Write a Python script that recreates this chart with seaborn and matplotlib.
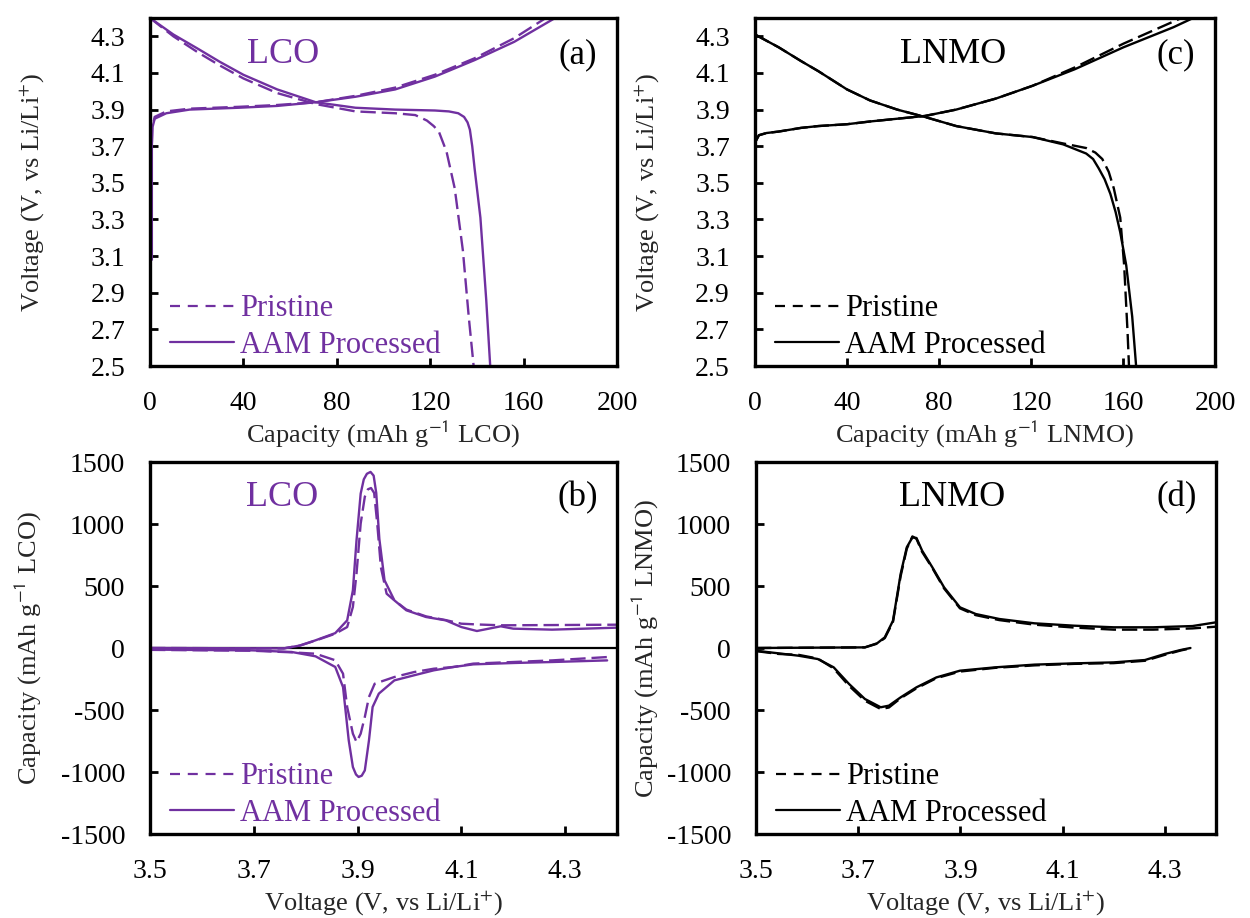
import numpy as np
import pandas as pd
import matplotlib
matplotlib.use("Agg")
import matplotlib.pyplot as plt
from matplotlib.lines import Line2D
import seaborn as sns

# ---------------- data ----------------
# (a) LCO galvanostatic charge / discharge
lco_chg_cap_aam = [0.8, 0.8, 1.0, 2, 7, 17, 38, 54.5, 71, 88, 105, 122, 139, 156, 173.5]
lco_chg_v_aam = [3.08, 3.70, 3.80, 3.85, 3.88, 3.90, 3.91, 3.92, 3.94, 3.97, 4.01, 4.08, 4.17, 4.27, 4.40]
lco_chg_cap_pri = [0.8, 1.0, 2, 7, 17, 38, 54.5, 71, 88, 105, 122, 139, 156, 169.5]
lco_chg_v_pri = [3.72, 3.80, 3.86, 3.89, 3.905, 3.915, 3.925, 3.94, 3.975, 4.02, 4.09, 4.18, 4.29, 4.40]
lco_dis_cap_aam = [0, 10, 20.8, 30, 40, 54.5, 71, 88, 105, 122, 128, 132, 134.5, 136, 137, 138, 139, 141.5, 144, 145.7]
lco_dis_v_aam = [4.40, 4.31, 4.23, 4.16, 4.09, 4.01, 3.94, 3.91, 3.90, 3.895, 3.89, 3.88, 3.86, 3.83, 3.79, 3.70, 3.58, 3.31, 2.86, 2.50]
lco_dis_cap_pri = [0, 10, 20.8, 30, 40, 54.5, 71, 88, 105, 113.6, 118.6, 121.5, 123.7, 127, 130.5, 134, 136.5, 138.6]
lco_dis_v_pri = [4.40, 4.30, 4.21, 4.14, 4.07, 3.99, 3.93, 3.89, 3.88, 3.87, 3.84, 3.81, 3.78, 3.67, 3.47, 3.13, 2.77, 2.50]

# (c) LNMO galvanostatic charge / discharge
lnmo_chg_cap_aam = [0, 1.7, 5, 10.3, 20, 27.5, 40, 50, 61.8, 73.8, 87.5, 104.7, 120.7, 139, 160.2, 182, 190.5]
lnmo_chg_v_aam = [3.72, 3.76, 3.772, 3.78, 3.80, 3.81, 3.82, 3.835, 3.85, 3.865, 3.90, 3.96, 4.03, 4.12, 4.24, 4.35, 4.40]
lnmo_chg_cap_pri = [0, 1.7, 5, 10.3, 20, 27.5, 40, 50, 61.8, 73.8, 87.5, 104.7, 120.7, 139, 160.2, 180, 185.4]
lnmo_chg_v_pri = [3.72, 3.76, 3.772, 3.78, 3.80, 3.81, 3.82, 3.835, 3.85, 3.865, 3.90, 3.96, 4.03, 4.13, 4.26, 4.37, 4.40]
lnmo_dis_cap_aam = [0, 10.3, 20, 27.5, 40, 50, 61.8, 73.8, 87.5, 104.7, 120.7, 134, 140, 144, 147, 149.4, 152, 154.5, 156.8, 158.8, 161.4, 164, 165.7]
lnmo_dis_v_aam = [4.31, 4.24, 4.165, 4.11, 4.01, 3.95, 3.90, 3.86, 3.81, 3.77, 3.75, 3.71, 3.68, 3.66, 3.63, 3.58, 3.52, 3.44, 3.34, 3.23, 3.05, 2.77, 2.50]
lnmo_dis_cap_pri = [0, 10.3, 20, 27.5, 40, 50, 61.8, 73.8, 87.5, 104.7, 120.7, 134, 140, 144, 148, 151, 153.8, 156, 158.8, 160.5, 162, 162.6]
lnmo_dis_v_pri = [4.31, 4.24, 4.165, 4.11, 4.01, 3.95, 3.90, 3.86, 3.81, 3.77, 3.75, 3.715, 3.70, 3.69, 3.665, 3.63, 3.56, 3.47, 3.31, 3.05, 2.68, 2.50]

# (b) LCO differential capacity
lco_dq_chg_v_aam = [3.50, 3.758, 3.789, 3.819, 3.857, 3.880, 3.891, 3.898, 3.906, 3.912, 3.918, 3.925, 3.931, 3.936,
                    3.942, 3.952, 3.971, 3.994, 4.032, 4.070, 4.100, 4.130, 4.153, 4.176, 4.200, 4.275, 4.400]
lco_dq_chg_q_aam = [0, -3, 20, 62, 120, 223, 465, 868, 1245, 1360, 1405, 1420, 1390, 1250,
                    880, 546, 384, 304, 250, 223, 169, 137, 156, 175, 156, 148, 164]
lco_dq_chg_v_pri = [3.50, 3.758, 3.789, 3.819, 3.857, 3.880, 3.891, 3.898, 3.906, 3.914, 3.920, 3.926, 3.932, 3.938,
                    3.945, 3.956, 3.971, 3.994, 4.032, 4.070, 4.100, 4.130, 4.176, 4.275, 4.400]
lco_dq_chg_q_pri = [0, -3, 20, 60, 115, 169, 331, 600, 1003, 1220, 1280, 1290, 1250, 1000,
                    650, 438, 384, 310, 255, 225, 196, 190, 183, 185, 188]
lco_dq_dis_v_aam = [3.50, 3.697, 3.773, 3.819, 3.857, 3.872, 3.883, 3.891, 3.897, 3.902, 3.908, 3.914, 3.922, 3.929,
                    3.941, 3.971, 4.009, 4.047, 4.085, 4.123, 4.200, 4.275, 4.381]
lco_dq_dis_q_aam = [-13, -19, -32, -67, -153, -315, -745, -960, -1020, -1040, -1030, -987, -745, -476,
                    -368, -261, -220, -180, -153, -132, -121, -113, -100]
lco_dq_dis_v_pri = [3.50, 3.697, 3.773, 3.819, 3.857, 3.872, 3.880, 3.891, 3.898, 3.906, 3.914, 3.922, 3.933,
                    3.971, 4.009, 4.047, 4.085, 4.123, 4.200, 4.275, 4.381]
lco_dq_dis_q_pri = [-15, -22, -35, -46, -99, -207, -476, -691, -758, -691, -556, -395, -288,
                    -234, -194, -167, -153, -126, -113, -100, -73]

# (d) LNMO differential capacity
lnmo_dq_chg_v = [3.50, 3.713, 3.737, 3.752, 3.768, 3.783, 3.795, 3.806, 3.814, 3.825, 3.845, 3.868, 3.899,
                 3.930, 3.976, 4.045, 4.122, 4.200, 4.277, 4.354, 4.400]
lnmo_dq_chg_q_aam = [0, 5, 38, 86, 220, 597, 812, 892, 887, 785, 651, 489, 328,
                     274, 234, 199, 180, 167, 167, 177, 207]
lnmo_dq_chg_q_pri = [0, 5, 35, 80, 210, 580, 800, 900, 880, 775, 645, 480, 320,
                     265, 225, 188, 165, 148, 148, 158, 172]
lnmo_dq_dis_v = [3.50, 3.544, 3.583, 3.621, 3.652, 3.682, 3.713, 3.744, 3.760, 3.783, 3.814, 3.853, 3.899,
                 3.968, 4.045, 4.122, 4.200, 4.261, 4.300, 4.331, 4.350]
lnmo_dq_dis_q_aam = [-22, -43, -62, -89, -156, -290, -411, -478, -465, -398, -317, -237, -183,
                     -156, -134, -124, -116, -97, -48, -16, 0]
lnmo_dq_dis_q_pri = [-25, -48, -55, -85, -165, -305, -425, -492, -480, -405, -325, -243, -190,
                     -160, -140, -128, -122, -103, -55, -20, -3]

samples = ["Pristine", "AAM Processed"]
cap_ticks = [0, 40, 80, 120, 160, 200]
volt_ticks = [2.5, 2.7, 2.9, 3.1, 3.3, 3.5, 3.7, 3.9, 4.1, 4.3]
dq_x_ticks = [3.5, 3.7, 3.9, 4.1, 4.3]
dq_y_ticks = [-1500, -1000, -500, 0, 500, 1000, 1500]

# ---------------- style ----------------
sns.set_theme(style="white")
plt.rcParams["font.family"] = ["Liberation Serif", "DejaVu Serif"]
plt.rcParams["mathtext.fontset"] = "stix"
plt.rcParams["axes.unicode_minus"] = False

PURPLE = "#7030A0"
FS_TICK = 20
FS_LAB = 19
FS_LEG = 22
FS_ANN = 26
FS_TAG = 25


def frame(curves):
    rows = []
    for (sample, branch, x, y) in curves:
        for xi, yi in zip(x, y):
            rows.append({"x": xi, "y": yi, "sample": sample, "branch": branch})
    return pd.DataFrame(rows)


fig = plt.figure(figsize=(12.5, 9.18), dpi=100)
W, H = 1250, 918


def add_axes(l, r, t, b):
    return fig.add_axes([l / W, 1 - b / H, (r - l) / W, (b - t) / H])


ax_a = add_axes(150, 617, 18, 366)
ax_c = add_axes(755, 1215, 18, 366)
ax_b = add_axes(150, 617, 462, 834)
ax_d = add_axes(756, 1216, 462, 834)

dash_map = {"Pristine": (6.5, 2.5), "AAM Processed": ""}

panels = [
    (ax_a, frame([("Pristine", "c", lco_chg_cap_pri, lco_chg_v_pri),
                  ("AAM Processed", "c", lco_chg_cap_aam, lco_chg_v_aam),
                  ("Pristine", "d", lco_dis_cap_pri, lco_dis_v_pri),
                  ("AAM Processed", "d", lco_dis_cap_aam, lco_dis_v_aam)]), PURPLE),
    (ax_c, frame([("Pristine", "c", lnmo_chg_cap_pri, lnmo_chg_v_pri),
                  ("AAM Processed", "c", lnmo_chg_cap_aam, lnmo_chg_v_aam),
                  ("Pristine", "d", lnmo_dis_cap_pri, lnmo_dis_v_pri),
                  ("AAM Processed", "d", lnmo_dis_cap_aam, lnmo_dis_v_aam)]), "black"),
    (ax_b, frame([("Pristine", "c", lco_dq_chg_v_pri, lco_dq_chg_q_pri),
                  ("AAM Processed", "c", lco_dq_chg_v_aam, lco_dq_chg_q_aam),
                  ("Pristine", "d", lco_dq_dis_v_pri, lco_dq_dis_q_pri),
                  ("AAM Processed", "d", lco_dq_dis_v_aam, lco_dq_dis_q_aam)]), PURPLE),
    (ax_d, frame([("Pristine", "c", lnmo_dq_chg_v, lnmo_dq_chg_q_pri),
                  ("AAM Processed", "c", lnmo_dq_chg_v, lnmo_dq_chg_q_aam),
                  ("Pristine", "d", lnmo_dq_dis_v, lnmo_dq_dis_q_pri),
                  ("AAM Processed", "d", lnmo_dq_dis_v, lnmo_dq_dis_q_aam)]), "black"),
]

for ax, df, col in panels:
    sns.lineplot(data=df, x="x", y="y", style="sample", units="branch", estimator=None,
                 sort=False, dashes=dash_map, style_order=samples, color=col,
                 linewidth=1.7, legend=False, ax=ax)

ax_b.axhline(0, color="black", lw=1.6, zorder=1)

# axes formatting
for ax in (ax_a, ax_c):
    ax.set_xlim(0, 200)
    ax.set_ylim(2.5, 4.4)
    ax.set_xticks(cap_ticks)
    ax.set_yticks(volt_ticks)
    ax.set_yticklabels([f"{v:.1f}" for v in volt_ticks])
for ax in (ax_b, ax_d):
    ax.set_xlim(3.5, 4.4)
    ax.set_ylim(-1500, 1500)
    ax.set_xticks(dq_x_ticks)
    ax.set_xticklabels([f"{v:.1f}" for v in dq_x_ticks])
    ax.set_yticks(dq_y_ticks)

for ax in (ax_a, ax_b, ax_c, ax_d):
    for s in ax.spines.values():
        s.set_linewidth(2.4)
        s.set_color("black")
    ax.tick_params(direction="in", length=6, width=2.0, labelsize=FS_TICK, colors="black",
                   left=True, bottom=True, top=False, right=False)
    ax.tick_params(axis="x", pad=18)
    ax.tick_params(axis="y", pad=18)
    ax.set_facecolor("white")

ax_a.set_xlabel("Capacity (mAh g$^{\\mathsf{-1}}$ LCO)", fontsize=FS_LAB)
ax_c.set_xlabel("Capacity (mAh g$^{\\mathsf{-1}}$ LNMO)", fontsize=FS_LAB)
ax_a.set_ylabel("Voltage (V, vs Li/Li$^{+}$)", fontsize=FS_LAB)
ax_c.set_ylabel("Voltage (V, vs Li/Li$^{+}$)", fontsize=FS_LAB)
ax_b.set_xlabel("Voltage (V, vs Li/Li$^{+}$)", fontsize=FS_LAB)
ax_d.set_xlabel("Voltage (V, vs Li/Li$^{+}$)", fontsize=FS_LAB)
ax_b.set_ylabel("Capacity (mAh g$^{\\mathsf{-1}}$ LCO)", fontsize=FS_LAB)
ax_d.set_ylabel("Capacity (mAh g$^{\\mathsf{-1}}$ LNMO)", fontsize=FS_LAB)

ax_a.yaxis.set_label_coords(-0.223, 0.5)
ax_b.yaxis.set_label_coords(-0.228, 0.5)
ax_c.yaxis.set_label_coords(-0.205, 0.5)
ax_d.yaxis.set_label_coords(-0.207, 0.5)
for ax in (ax_a, ax_c):
    ax.xaxis.set_label_coords(0.5, -0.152)
for ax in (ax_b, ax_d):
    ax.xaxis.set_label_coords(0.5, -0.145)

# annotations
ANN_Y = {ax_a: 0.895, ax_c: 0.895, ax_b: 0.905, ax_d: 0.905}
ax_a.text(0.285, ANN_Y[ax_a], "LCO", transform=ax_a.transAxes, fontsize=FS_ANN, color=PURPLE, ha="center", va="center")
ax_b.text(0.283, ANN_Y[ax_b], "LCO", transform=ax_b.transAxes, fontsize=FS_ANN, color=PURPLE, ha="center", va="center")
ax_c.text(0.43, ANN_Y[ax_c], "LNMO", transform=ax_c.transAxes, fontsize=FS_ANN, color="black", ha="center", va="center")
ax_d.text(0.427, ANN_Y[ax_d], "LNMO", transform=ax_d.transAxes, fontsize=FS_ANN, color="black", ha="center", va="center")
for ax, lab in ((ax_a, "(a)"), (ax_b, "(b)"), (ax_c, "(c)"), (ax_d, "(d)")):
    ax.text(0.915, ANN_Y[ax], lab, transform=ax.transAxes, fontsize=FS_TAG, color="black", ha="center", va="center")

# legends
for ax, col in ((ax_a, PURPLE), (ax_b, PURPLE), (ax_c, "black"), (ax_d, "black")):
    handles = [Line2D([], [], color=col, lw=1.6, dashes=(4.5, 3.5)),
               Line2D([], [], color=col, lw=1.6)]
    ax.legend(handles, samples, loc="lower left", bbox_to_anchor=(0.03, 0.0), frameon=False,
              fontsize=FS_LEG, labelcolor=col, handlelength=2.1, handletextpad=0.2,
              labelspacing=0.25, borderaxespad=0.05, borderpad=0.15)

fig.savefig("out.png", dpi=100, facecolor="white")
